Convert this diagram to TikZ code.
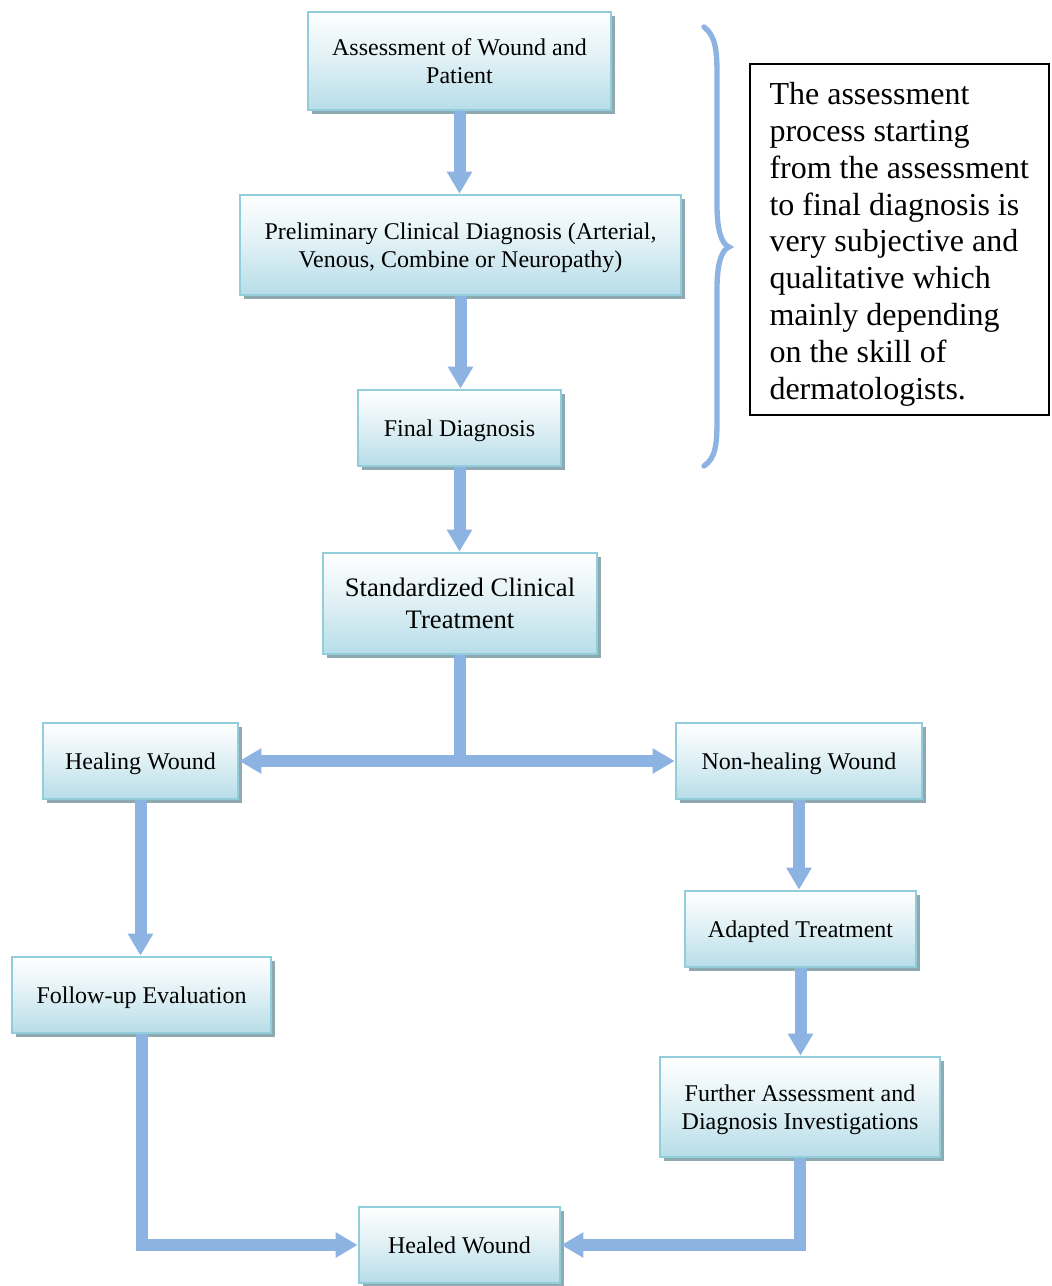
\documentclass[tikz,border=0pt]{standalone}
\usepackage{fontspec}
\setmainfont{Liberation Serif}
\usetikzlibrary{arrows.meta,shadows}
\definecolor{boxblue}{HTML}{B7DDE8}
\definecolor{boxedge}{HTML}{92CDDC}
\definecolor{boxshadow}{HTML}{8FA9B1}
\definecolor{flowblue}{HTML}{8DB3E2}
\tikzset{
  stepbox/.style={draw=boxedge, line width=2pt, top color=white, bottom color=boxblue,
    middle color=boxblue!45, align=center, inner sep=2pt, text depth=0pt,
    font=\fontsize{18}{21}\selectfont,
    drop shadow={shadow xshift=3pt, shadow yshift=-3pt, fill=boxshadow, opacity=1}},
  flow/.style={draw=flowblue, line width=9pt},
  flowarrow/.style={flow, -{Triangle[width=18pt,length=16.5pt]}},
  noteframe/.style={draw=black, line width=1.1pt, fill=white, inner sep=0pt},
  notetext/.style={align=left, inner sep=0pt, font=\fontsize{24}{27.6}\selectfont}
}
\begin{document}
\begin{tikzpicture}[x=0.75pt, y=-0.75pt]
  \useasboundingbox (0,0) rectangle (1051,1286);

  % process boxes
  \node[stepbox, minimum width=227.25pt, minimum height=73.5pt] (assess) at (459.5,61)
    {Assessment of Wound and\\Patient};
  \node[stepbox, minimum width=330.75pt, minimum height=75pt] (prelim) at (460.5,245)
    {Preliminary Clinical Diagnosis (Arterial,\\Venous, Combine or Neuropathy)};
  \node[stepbox, minimum width=152.25pt, minimum height=57pt] (final) at (459.5,428)
    {Final Diagnosis};
  \node[stepbox, minimum width=205.5pt, minimum height=75.75pt,
        font=\fontsize{20}{24}\selectfont] (standard) at (460,603.5)
    {Standardized Clinical\\Treatment};
  \node[stepbox, minimum width=146.25pt, minimum height=57pt] (healing) at (140.5,761)
    {Healing Wound};
  \node[stepbox, minimum width=184.5pt, minimum height=57pt] (nonhealing) at (799,761)
    {Non-healing Wound};
  \node[stepbox, minimum width=173.25pt, minimum height=57pt] (adapted) at (800.5,929)
    {Adapted Treatment};
  \node[stepbox, minimum width=194.25pt, minimum height=57pt] (followup) at (141.5,995)
    {Follow-up Evaluation};
  \node[stepbox, minimum width=210pt, minimum height=75pt] (further) at (800,1107)
    {Further Assessment and\\Diagnosis Investigations};
  \node[stepbox, minimum width=150.75pt, minimum height=57pt] (healed) at (459.5,1245)
    {Healed Wound};

  % explanatory note
  \node[noteframe, minimum width=224.25pt, minimum height=263.25pt] (note) at (899.5,239.5) {};
  \node[notetext, anchor=west] (notebody) at ([xshift=15pt, yshift=-3.5pt]note.west)
    {The assessment\\process starting\\from the assessment\\to final diagnosis is\\very subjective and\\qualitative which\\mainly depending\\on the skill of\\dermatologists.};

  % brace grouping the diagnostic steps
  \draw[draw=flowblue, line width=4pt, line cap=round]
    (704,27) .. controls (716,36) and (717,52) .. (717,75)
    -- (717,205)
    .. controls (717,232) and (722,244) .. (729,247)
    .. controls (722,250) and (717,262) .. (717,289)
    -- (717,420)
    .. controls (717,443) and (716,458) .. (704,466);

  % connectors
  \draw[flowarrow] (assess.south) -- (assess.south |- prelim.north);
  \draw[flowarrow] (prelim.south) -- (prelim.south |- final.north);
  \draw[flowarrow] (final.south) -- (final.south |- standard.north);

  \coordinate (split) at (460,761);
  \draw[flow] (standard.south) -- ([yshift=-4.5pt]split);
  \draw[flowarrow] (split) -- (healing.east);
  \draw[flowarrow] (split) -- (nonhealing.west);

  \draw[flowarrow] (healing.south) -- (healing.south |- followup.north);
  \draw[flowarrow] (nonhealing.south) -- (nonhealing.south |- adapted.north);
  \draw[flowarrow] (adapted.south) -- (adapted.south |- further.north);

  \draw[flowarrow] (followup.south) |- (healed.west);
  \draw[flowarrow] (further.south) |- (healed.east);
\end{tikzpicture}
\end{document}
